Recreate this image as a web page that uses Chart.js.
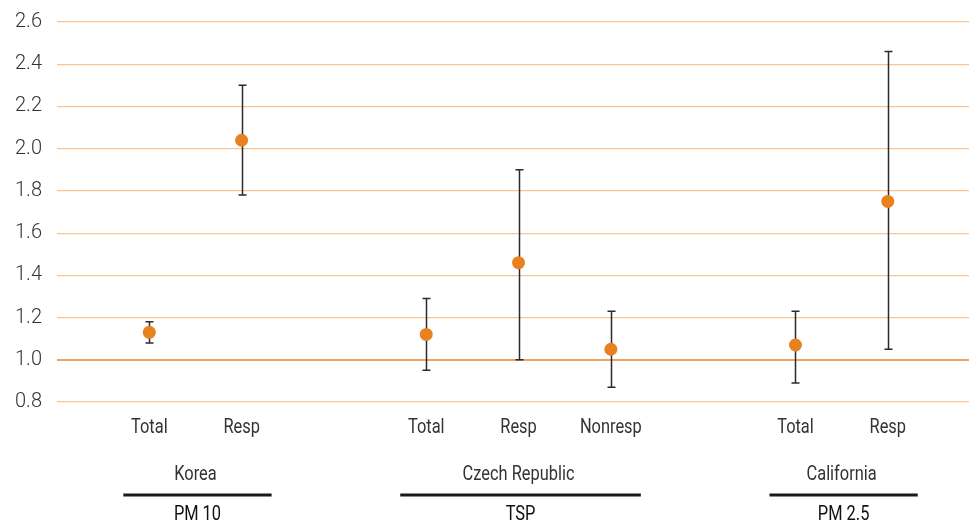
<!DOCTYPE html>
<html>
<head>
<meta charset="utf-8">
<script src="https://cdn.jsdelivr.net/npm/chart.js@4/dist/chart.umd.min.js"></script>
<style>
  html, body { margin: 0; padding: 0; background: #ffffff; overflow: hidden; }
  canvas { display: block; }
</style>
</head>
<body>
<canvas id="chart" width="969" height="524"></canvas>
<script>
// Outcome categories along the x axis; empty strings are spacer slots between regions
const categories = ['Total', 'Resp', '', 'Total', 'Resp', 'Nonresp', '', 'Total', 'Resp'];
// Point estimates and 95% confidence limits
const estimates = [1.13, 2.04, null, 1.12, 1.46, 1.05, null, 1.07, 1.75];
const lowerCI   = [1.08, 1.78, null, 0.95, 1.00, 0.87, null, 0.89, 1.05];
const upperCI   = [1.18, 2.30, null, 1.29, 1.90, 1.23, null, 1.23, 2.46];
// Region groups, pollutant measured, and which category slots belong to each
const regions = ['Korea', 'Czech Republic', 'California'];
const pollutants = ['PM 10', 'TSP', 'PM 2.5'];
const regionMembers = [[0, 1], [3, 4, 5], [7, 8]];
// Y axis tick values
const yTicks = [0.8, 1.0, 1.2, 1.4, 1.6, 1.8, 2.0, 2.2, 2.4, 2.6];

const FONT = 'Roboto, "Liberation Sans", sans-serif';
const TEXT = '#333333';
const CONDENSE = 0.82;

const points = [];
categories.forEach((c, i) => {
  if (estimates[i] !== null) points.push({ x: i + 1, y: estimates[i], lo: lowerCI[i], hi: upperCI[i] });
});

// Text in a narrow face: horizontally compressed glyphs
function narrowText(ctx, text, x, y, font, color) {
  ctx.save();
  ctx.font = font;
  ctx.fillStyle = color;
  ctx.textAlign = 'center';
  ctx.textBaseline = 'middle';
  ctx.translate(x, y);
  ctx.scale(CONDENSE, 1);
  ctx.fillText(text, 0, 0);
  ctx.restore();
}

// Vertical confidence-interval whiskers with end caps, drawn beneath the points
const errorBars = {
  id: 'errorBars',
  beforeDatasetsDraw(chart) {
    const { ctx, scales: { x, y } } = chart;
    ctx.save();
    ctx.strokeStyle = '#2b2b2b';
    ctx.lineWidth = 1.5;
    points.forEach(p => {
      const px = Math.round(x.getPixelForValue(p.x)) + 0.5;
      const yTop = y.getPixelForValue(p.hi);
      const yBot = y.getPixelForValue(p.lo);
      ctx.beginPath();
      ctx.moveTo(px, yTop); ctx.lineTo(px, yBot);
      ctx.moveTo(px - 4, yTop); ctx.lineTo(px + 4, yTop);
      ctx.moveTo(px - 4, yBot); ctx.lineTo(px + 4, yBot);
      ctx.stroke();
    });
    ctx.restore();
  }
};

// Category labels, region names, underline rules and pollutant labels below the plot
const axisLabels = {
  id: 'axisLabels',
  afterDraw(chart) {
    const { ctx, scales: { x } } = chart;
    categories.forEach((c, i) => {
      if (c) narrowText(ctx, c, x.getPixelForValue(i + 1), 428, '20px ' + FONT, TEXT);
    });
    regions.forEach((name, g) => {
      const members = regionMembers[g];
      const first = x.getPixelForValue(members[0] + 1);
      const last = x.getPixelForValue(members[members.length - 1] + 1);
      const left = first - 26;
      const right = last + 30;
      narrowText(ctx, name, (first + last) / 2, 475, '20px ' + FONT, TEXT);
      ctx.save();
      ctx.strokeStyle = '#1a1a1a';
      ctx.lineWidth = 3;
      ctx.beginPath();
      ctx.moveTo(left, 495);
      ctx.lineTo(right, 495);
      ctx.stroke();
      ctx.restore();
      narrowText(ctx, pollutants[g], (left + right) / 2, 515, '20px ' + FONT, '#111111');
    });
  }
};

new Chart(document.getElementById('chart'), {
  type: 'scatter',
  data: {
    datasets: [{
      data: points,
      backgroundColor: '#E8821E',
      borderWidth: 0,
      pointRadius: 6.5,
      pointHoverRadius: 6.5
    }]
  },
  options: {
    responsive: false,
    animation: false,
    events: [],
    layout: { autoPadding: false, padding: { top: 22, left: 0, right: 0, bottom: 0 } },
    plugins: { legend: { display: false }, tooltip: { enabled: false } },
    scales: {
      x: {
        type: 'linear',
        min: 0,
        max: 9.88,
        grid: { display: false },
        border: { display: false },
        ticks: { display: false },
        afterFit(axis) {
          axis.height = 122;
          axis.paddingLeft = 0;
          axis.paddingRight = 0;
        }
      },
      y: {
        min: 0.8,
        max: 2.6,
        afterBuildTicks(axis) { axis.ticks = yTicks.map(v => ({ value: v })); },
        afterFit(axis) {
          axis.width = 57;
          axis.paddingTop = 0;
          axis.paddingBottom = 0;
        },
        border: { display: false },
        grid: {
          drawTicks: false,
          color: (c) => (c.tick && Math.abs(c.tick.value - 1) < 1e-9 ? '#F0A35E' : '#F6C496'),
          lineWidth: (c) => (c.tick && Math.abs(c.tick.value - 1) < 1e-9 ? 2 : 1.2)
        },
        ticks: {
          padding: 15,
          color: TEXT,
          font: { family: FONT, size: 20, weight: 300 },
          callback: (v) => Number(v).toFixed(1)
        }
      }
    }
  },
  plugins: [errorBars, axisLabels]
});
</script>
</body>
</html>
